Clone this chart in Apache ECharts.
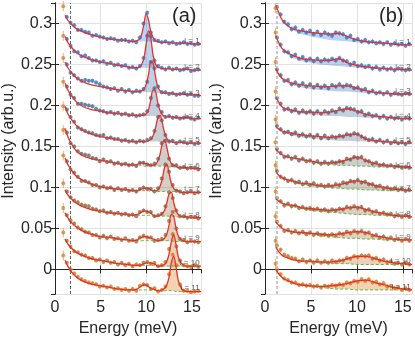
<!DOCTYPE html>
<html>
<head>
<meta charset="utf-8">
<script src="https://cdn.jsdelivr.net/npm/echarts@6/dist/echarts.min.js"></script>
<style>html,body{margin:0;background:#fff}#c{width:415px;height:342px}</style>
</head>
<body>
<div id="c"></div>
<script>
// energy grids (meV)
const eFitA = [1.1,1.4,1.8,2.3,3,4,5,6,7,8,8.5,9,9.25,9.5,9.75,10,10.25,10.5,10.75,11,11.25,11.5,11.75,12,12.25,12.5,12.75,13,13.25,13.5,13.75,14,14.5,15.2,16];
const eWinA = [9,9.25,9.5,9.75,10,10.25,10.5,10.75,11,11.25,11.5,11.75,12,12.25,12.5,12.75,13,13.25,13.5,13.75,14];
const eFitB = [1.2,1.4,1.7,2,2.5,3,3.5,4,5,6,7,8,9,10,11,12,13,14,15,16];
const eScat = [1.3,1.7,2.1,2.5,2.9,3.3,3.7,4.1,4.5,4.9,5.3,5.7,6.1,6.5,6.9,7.3,7.7,8.1,8.5,8.9,9.3,9.7,10.1,10.5,10.9,11.3,11.7,12.1,12.5,12.9,13.3,13.7,14.1,14.5,14.9,15.3,15.7];

// vertical offsets of the spectra i = 1..11
const offsets = [.275,.245,.215,.185,.155,.125,.095,.065,.035,.005,-.025];
const labels = ['i = 1','i = 2','i = 3','i = 4','i = 5','i = 6','i = 7','i = 8','i = 9','i = 10','i = 11'];
const colors = ['#2b7bd8','#3376c8','#3d71b0','#4a6d96','#596a80','#6a6a68','#7e6a52','#946c43','#ab6f36','#c57328','#de781b'];

// panel (a), values in 1e-3 above each offset
const bgA = [
  [35,29,24,19,15,11,8,6,5,4,3, 3,3,3,3,3,3,3,3,2, 2,2,2,2,2,2,2, 1,1,1,1,1, 1,0,0],
  [39,32,26,20,15,11,8,6,4,2,1, 1,1,1,1,1,1,1,0,0, 0,0,0,0,0,0,-1, -1,-1,-1,-1,-1, -1,-2,-2],
  [38,31,25,19,14,10,8,6,4,3,2, 2,2,2,1,1,1,1,1,1, 0,0,0,0,0,0,0, -1,-1,-1,-1,-1, -2,-2,-3],
  [42,34,27,20,14,10,8,6,5,4,3, 3,3,3,2,2,2,2,2,2, 1,1,1,1,1,1,1, 1,0,0,0,0, 0,-1,-1],
  [44,35,28,21,15,10,7,5,3,2,1, 1,1,1,1,1,1,1,1,1, 1,0,0,0,0,0,0, 0,0,0,0,0, -1,-1,-1],
  [47,37,28,20,14,10,8,6,4,3,2, 2,2,2,1,1,1,1,1,1, 1,1,1,1,0,0,0, 0,0,-1,-1,-1, -1,-2,-2],
  [41,33,26,19,14,9,6,4,3,2,1, 1,1,1,1,1,1,0,0,0, 0,0,0,0,0,0,0, 0,0,0,-1,-1, -1,-1,-1],
  [32,26,21,16,12,8,6,4,3,2,1, 1,1,1,1,1,1,1,0,0, 0,0,0,0,0,0,0, -1,-1,-1,-1,-1, -1,-2,-2],
  [34,28,22,17,12,8,5,4,2,1,0, 0,0,0,0,0,0,0,0,0, 0,0,0,0,0,0,0, -1,-1,-1,-1,-1, -1,-1,-1],
  [32,26,21,16,12,8,6,4,2,1,0, 0,0,0,0,0,0,0,0,0, -1,-1,-1,-1,-1,-1,-1, -1,-1,-1,-1,-1, -1,-1,-1],
  [36,29,22,16,11,7,5,3,1,0,0, 0,0,0,0,0,0,0,0,0, -1,-1,-1,-1,-1,-1,-1, -1,-2,-2,-2,-2, -2,-2,-2]
];
const bumpA = [
  [], [], [], [], [],
  [1,2,3,3,3,2,1],
  [0,1,2,3,3,3,2,1],
  [1,2,4,5,5,4,3,1],
  [1,3,4,5,5,4,3,2,1],
  [0,0,1,2,3,3,3,2,1],
  [1,3,5,6,6,4,2,1]
];
const peakA = [
  [1,3,9,22,34,26,12,5,2,1],
  [0,1,4,12,30,45,36,16,6,2,1],
  [0,0,1,4,10,22,37,36,20,8,3,1],
  [0,0,0,1,3,8,20,32,31,18,8,3,1],
  [0,0,0,0,0,1,3,7,16,28,33,24,12,5,2,1],
  [0,0,0,0,0,0,0,1,2,6,14,27,32,24,11,4,2,1],
  [0,0,0,0,0,0,0,0,1,2,6,15,29,33,22,10,4,2,1],
  [0,0,0,0,0,0,0,0,0,0,1,3,7,16,27,29,18,8,3,1],
  [0,0,0,0,0,0,0,0,0,0,0,1,3,8,19,32,31,17,7,3,1],
  [0,0,0,0,0,0,0,0,0,0,0,1,2,6,15,30,38,27,12,5,2],
  [0,0,0,0,0,0,0,0,0,0,0,1,3,7,17,34,42,31,14,6,2]
];
const scatA = [
  [33,26,23,17,17,15,14,10,11,9,8,6,7,6,4,5,5,3,4,2,8,25,38,14,5,4,2,3,1,2,0,1,2,0,1,-1,0],
  [36,28,21,20,15,16,13,10,10,8,9,6,7,4,5,3,4,1,2,0,3,13,40,39,10,3,1,-1,1,-1,0,-2,-1,0,-3,-2,-1],
  [35,25,22,18,15,16,15,15,13,11,8,7,5,6,3,5,2,4,1,3,2,5,14,38,30,8,1,1,-1,0,-2,-1,0,-2,-1,-3,-3],
  [38,28,24,17,17,16,15,14,11,9,8,6,7,5,6,4,5,3,4,2,3,4,8,24,36,15,7,1,2,0,1,-1,0,1,-1,-2,0],
  [40,31,25,18,16,14,12,11,9,8,9,5,6,4,4,2,3,1,2,0,2,1,3,5,14,31,27,9,1,2,-1,1,0,-1,0,-2,-1],
  [42,29,25,19,16,15,14,11,10,7,9,6,7,4,5,3,4,2,3,1,5,5,3,2,4,10,29,32,10,2,2,-1,0,-2,-1,-1,-3],
  [37,27,23,18,13,13,11,8,8,5,6,4,5,2,4,2,3,1,2,0,3,5,3,3,0,4,16,33,24,8,1,0,-2,-1,0,-2,-1],
  [30,23,19,17,14,13,12,9,8,6,7,4,5,3,4,2,3,1,2,0,5,7,5,5,0,1,3,12,29,22,7,0,0,-2,-1,-1,-3],
  [31,25,21,16,14,11,10,7,7,4,6,3,5,2,3,1,3,0,1,-1,4,6,4,4,0,1,2,7,24,35,15,2,1,-2,0,-1,-2],
  [30,23,17,16,13,12,9,9,6,7,4,6,3,4,1,3,0,2,-1,1,0,3,4,2,3,-1,0,4,20,38,23,6,0,-1,-2,0,-2],
  [33,25,20,16,13,11,9,8,7,4,5,3,4,1,2,0,1,-1,1,-1,5,7,6,1,2,-2,0,4,19,43,30,7,-1,-1,-3,-2,-1]
];
const errA = 2.5;

// panel (b)
const bgB = [
  [47,41,33,27,21,17,14,12,9,7,5,4,3,2,1,1,0,0,-1,-1],
  [40,34,27,22,17,13,11,9,7,5,4,3,2,1,0,0,-1,-1,-1,-2],
  [30,25,20,16,12,10,8,7,5,4,3,2,2,1,0,0,-1,-1,-1,-1],
  [25,21,15,12,9,7,6,5,4,3,2,2,1,1,0,0,0,-1,-1,-1],
  [20,17,14,12,10,8,7,6,5,4,3,2,2,1,1,0,0,-1,-1,-1],
  [22,19,16,14,12,11,10,9,6,4,3,2,2,1,1,0,0,0,-1,-1],
  [25,21,18,16,14,12,10,9,7,6,5,4,3,3,2,2,1,1,1,1],
  [21,19,17,15,13,12,11,9,7,6,5,4,3,2,2,1,1,0,0,-1],
  [23,20,17,14,12,11,10,9,8,6,5,4,3,3,2,2,1,1,1,1],
  [22,18,14,11,9,7,6,5,4,3,2,2,2,1,1,1,1,1,1,1],
  [25,21,17,14,11,9,7,6,4,3,2,1,1,0,0,0,0,0,0,0]
];
const broadB = [
  [0,0,0,0,1,2,3,4,5,6,7,9,6,3,2,1,1,0,0,0],
  [0,0,0,1,2,3,3,3,4,5,6,9,5,3,2,1,1,0,0,0],
  [0,0,0,1,2,2,3,3,4,4,5,7,7,5,3,1,1,0,0,0],
  [0,0,0,0,1,2,2,2,3,3,5,7,10,7,4,2,1,1,0,0],
  [0,0,1,1,2,3,3,3,3,3,3,5,7,9,3,2,1,1,0,0],
  [0,0,0,0,0,0,0,0,1,1,2,4,7,11,7,4,2,1,1,0],
  [0,0,0,0,0,1,1,1,2,1,2,4,8,10,9,5,4,2,1,0],
  [0,0,0,0,1,1,1,1,2,2,2,4,7,9,6,4,2,1,0,0],
  [0,0,0,0,0,0,0,1,1,2,2,4,7,8,8,4,3,1,0,0],
  [0,0,0,0,0,0,0,0,1,1,2,3,6,10,10,7,4,2,1,0],
  [0,0,0,0,0,0,0,0,1,1,3,5,7,11,12,9,6,3,1,0]
];
const scatB = [
  [45,36,27,24,18,20,15,17,14,16,12,15,11,14,12,10,14,13,12,8,10,5,6,3,5,2,3,1,2,0,2,-1,1,-1,0,-2,0],
  [38,29,21,20,15,17,12,14,10,12,9,12,9,11,10,12,10,13,10,9,5,7,3,4,2,3,0,2,-1,1,-1,0,-2,0,-1,-2,-1],
  [29,22,15,16,11,13,9,12,8,11,7,10,7,9,6,10,8,11,8,10,9,6,7,4,5,1,3,0,1,-1,1,-2,0,-1,-2,0,-1],
  [24,17,10,11,8,10,6,9,6,8,5,8,5,8,6,9,7,11,9,12,11,10,7,8,3,5,2,3,0,2,-1,1,-1,0,-2,0,-1],
  [20,16,12,13,10,12,8,10,7,9,6,9,5,8,5,7,6,8,7,10,9,11,10,7,5,3,4,1,3,0,2,-1,1,-1,0,-2,0],
  [22,17,12,13,10,12,8,10,7,8,5,7,4,6,4,6,5,7,6,10,9,12,11,12,8,7,4,5,2,3,1,2,0,1,-1,0,-1],
  [25,18,16,13,14,11,12,9,11,8,10,7,8,6,8,6,9,8,11,10,13,12,14,11,12,9,9,6,7,4,5,3,4,2,3,1,2],
  [22,18,13,15,12,13,10,11,9,10,8,9,7,8,6,8,7,9,8,11,10,12,10,11,7,8,5,6,3,4,2,3,0,1,-1,1,-1],
  [23,18,12,13,10,12,9,11,8,10,7,9,7,8,6,8,6,9,8,11,9,12,10,12,9,10,6,7,4,5,2,4,1,2,0,2,0],
  [24,19,13,11,9,8,5,7,4,6,3,6,3,5,3,6,4,6,6,9,8,11,10,12,11,12,8,9,6,7,4,5,2,3,1,3,1],
  [25,19,14,12,9,9,6,7,5,6,4,5,3,5,4,6,5,7,6,9,8,11,10,13,11,13,9,10,7,8,4,5,2,3,0,2,0]
];
const errB = 3;

// first (low-energy) points, drawn in orange with error bars
const firstA = { e: 0.9, v: [46,40,43,44,44,45,44,40,40,40,42], err: 6 };
const firstB = { e: 1.15, v: [44,44,38,32,28,30,32,30,30,30,32], err: 6 };
const cutA = 1.64, cutB = 1.27;

const winVal = (arr, e) => { const j = eWinA.indexOf(e); return j < 0 ? 0 : (arr[j] || 0); };
// per spectrum: background, lower edge of the shaded peak, full fit (1e-3 above the offset)
const compA = bgA.map((bg, k) => {
  const base = eFitA.map((e, j) => bg[j] + winVal(bumpA[k], e));
  return { bg, lo: base, fit: eFitA.map((e, j) => base[j] + winVal(peakA[k], e)) };
});
const compB = bgB.map((bg, k) => ({ bg, lo: bg, fit: bg.map((v, j) => v + broadB[k][j]) }));

const toPts = (es, vals, off) => es.map((e, j) => [e, off + vals[j] / 1000]);
const series = [];
const RED = '#e4322b', GREEN = '#5db548';

const vbar = (x, y, e, api, color, w) => {
  const a = api.coord([x, y - e]), b = api.coord([x, y + e]);
  return { type: 'line', shape: { x1: a[0], y1: a[1], x2: b[0], y2: b[1] }, style: { stroke: color, lineWidth: w } };
};

function addPanel(p, scat, err, comp, eFit, first, cut, cutStyle) {
  // shaded peak areas
  series.push({
    type: 'custom', xAxisIndex: p, yAxisIndex: p, z: 1, silent: true, clip: true,
    data: offsets.map((o, k) => [k, o]),
    renderItem: (params, api) => {
      const k = api.value(0), off = offsets[k], c = comp[k];
      const top = eFit.map((e, j) => api.coord([e, off + c.fit[j] / 1000]));
      const bot = eFit.map((e, j) => api.coord([e, off + c.lo[j] / 1000])).reverse();
      return { type: 'polygon', shape: { points: top.concat(bot) }, style: { fill: colors[k], opacity: 0.33 } };
    }
  });
  // error bars of the data points
  const bars = [];
  scat.forEach((row, k) => row.forEach((v, j) => bars.push([eScat[j], offsets[k] + v / 1000, err / 1000, k])));
  series.push({
    type: 'custom', xAxisIndex: p, yAxisIndex: p, z: 2, silent: true, clip: true, data: bars,
    renderItem: (params, api) => {
      const g = vbar(api.value(0), api.value(1), api.value(2), api, colors[api.value(3)], 1);
      g.style.opacity = 0.45;
      return g;
    }
  });
  for (let k = 0; k < 11; k++) {
    const off = offsets[k];
    const sc = {
      type: 'scatter', xAxisIndex: p, yAxisIndex: p, data: toPts(eScat, scat[k], off),
      symbolSize: 4, itemStyle: { color: colors[k] }, z: 3, silent: true
    };
    if (k === 0) sc.markLine = {
      silent: true, symbol: 'none', label: { show: false }, lineStyle: cutStyle, data: [{ xAxis: cut }]
    };
    series.push(sc);
    if (k >= 5) series.push({
      type: 'line', xAxisIndex: p, yAxisIndex: p, data: toPts(eFit, comp[k].bg, off), smooth: 0.35,
      showSymbol: false, silent: true, z: 4, lineStyle: { color: GREEN, width: 1, type: [3, 2] }
    });
    series.push({
      type: 'line', xAxisIndex: p, yAxisIndex: p, data: toPts(eFit, comp[k].fit, off), smooth: 0.35,
      showSymbol: false, silent: true, z: 5, lineStyle: { color: RED, width: 1.3 }
    });
    const bg = comp[k].bg, last = bg[bg.length - 1];
    series.push({
      type: 'scatter', xAxisIndex: p, yAxisIndex: p, data: [[15.9, off + (last + 4) / 1000]],
      symbolSize: 1, itemStyle: { color: 'transparent' }, z: 6, silent: true,
      label: { show: true, position: 'left', distance: 0, formatter: labels[k], fontSize: 8, color: '#333', fontFamily: 'Liberation Sans' }
    });
  }
  const fp = first.v.map((v, k) => [first.e, offsets[k] + v / 1000, first.err / 1000]);
  series.push({
    type: 'custom', xAxisIndex: p, yAxisIndex: p, data: fp, z: 2, silent: true,
    renderItem: (params, api) => vbar(api.value(0), api.value(1), api.value(2), api, '#e9b27a', 1)
  });
  series.push({
    type: 'scatter', xAxisIndex: p, yAxisIndex: p, data: fp.map(d => [d[0], d[1]]),
    symbolSize: 4, itemStyle: { color: '#d9822b' }, z: 3, silent: true
  });
}

addPanel(0, scatA, errA, compA, eFitA, firstA, cutA, { color: '#606060', type: [3, 2], width: 1 });
addPanel(1, scatB, errB, compB, eFitB, firstB, cutB, { color: '#b8b8b8', type: [3, 2], width: 1.5 });

const FONT = 'Liberation Sans';
const axisCol = '#262626';
const tick = { inside: true, length: 4, lineStyle: { color: axisCol } };
const xAx = (p) => ({
  type: 'value', gridIndex: p, min: 0, max: 16, interval: 5,
  name: 'Energy (meV)', nameLocation: 'middle', nameGap: 27,
  nameTextStyle: { fontSize: 16, color: axisCol, fontFamily: FONT },
  axisLine: { lineStyle: { color: axisCol } }, axisTick: tick,
  axisLabel: { fontSize: 16, color: axisCol, margin: 6, fontFamily: FONT },
  splitLine: { lineStyle: { color: '#e2e2e2' } }
});
const yAx = (p, gap) => ({
  type: 'value', gridIndex: p, min: -0.03, max: 0.325, splitNumber: 7,
  name: 'Intensity (arb.u.)', nameLocation: 'middle', nameGap: gap,
  nameTextStyle: { fontSize: 16, color: axisCol, fontFamily: FONT, padding: [0, 0, 0, 15] },
  axisLine: { lineStyle: { color: axisCol } }, axisTick: tick,
  axisLabel: { fontSize: 16, color: axisCol, margin: 3, fontFamily: FONT, showMinLabel: false, showMaxLabel: false },
  splitLine: { lineStyle: { color: '#e2e2e2' } }
});
// box edges (top / right) with inward ticks only
const xTop = (p) => ({ type: 'value', gridIndex: p, position: 'top', min: 0, max: 16, interval: 5,
  axisLine: { lineStyle: { color: axisCol } }, axisTick: tick, axisLabel: { show: false }, splitLine: { show: false } });
const yRight = (p) => ({ type: 'value', gridIndex: p, position: 'right', min: -0.03, max: 0.325, splitNumber: 7,
  axisLine: { lineStyle: { color: axisCol } }, axisTick: tick, axisLabel: { show: false }, splitLine: { show: false } });

const chart = echarts.init(document.getElementById('c'));
chart.setOption({
  animation: false,
  backgroundColor: '#fff',
  title: [
    { text: '(a)', left: 172, top: 6, padding: 0, textStyle: { fontSize: 20, fontWeight: 'normal', color: axisCol, fontFamily: FONT } },
    { text: '(b)', left: 379, top: 6, padding: 0, textStyle: { fontSize: 20, fontWeight: 'normal', color: axisCol, fontFamily: FONT } }
  ],
  grid: [
    { left: 55, top: 3, width: 146, height: 295 },
    { left: 265, top: 3, width: 147, height: 295 }
  ],
  xAxis: [xAx(0), xAx(1), xTop(0), xTop(1)],
  yAxis: [yAx(0, 35), yAx(1, 40), yRight(0), yRight(1)],
  series
});
</script>
</body>
</html>
